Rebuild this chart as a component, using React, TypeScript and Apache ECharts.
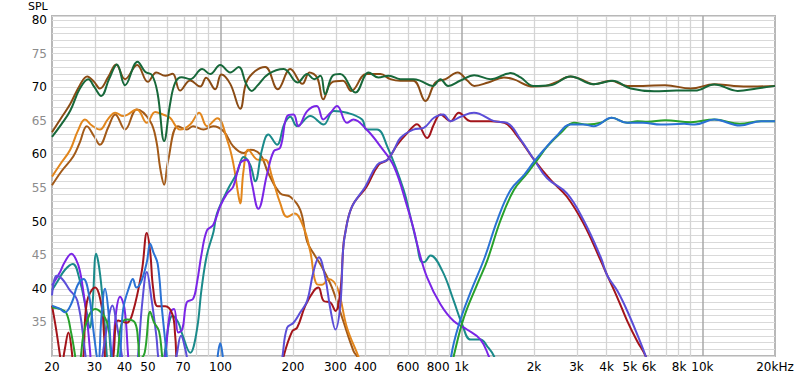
import React, { useEffect, useRef } from "react";
import * as echarts from "echarts";

// x-axis tick labels (Hz) and their texts
const xTickFreqs = [20, 30, 40, 50, 70, 100, 200, 300, 400, 600, 800, 1000, 2000, 3000, 4000, 5000, 6000, 8000, 10000, 20000];
const xTickLabels = ["20", "30", "40", "50", "70", "100", "200", "300", "400", "600", "800", "1k", "2k", "3k", "4k", "5k", "6k", "8k", "10k", "20kHz"];
// vertical grid lines
const minorGridFreqs = [30, 40, 50, 60, 70, 80, 90, 200, 300, 400, 500, 600, 700, 800, 900, 2000, 3000, 4000, 5000, 6000, 7000, 8000, 9000];
const majorGridFreqs = [100, 1000, 10000];
// y range (dB SPL)
const yMin = 30;
const yMax = 80.6;

// [frequency Hz, SPL dB]
const totalBrown = [[20,63.3],[21.9,65.5],[23.8,67.5],[26.1,70.3],[28,71.6],[29.9,70.8],[31.6,69.8],[34.2,71.5],[36.9,73.4],[40.2,71.2],[45.1,73.3],[50,70.8],[54.2,72.2],[59,71.7],[63.3,72],[68,69.5],[74.9,71],[82.4,70.1],[87.2,71.4],[95.1,69.7],[100.8,71.9],[109.8,70.5],[120.8,66.8],[128,70.7],[139.4,72.4],[153.4,73],[173,69.7],[194.9,72.7],[219,70.5],[234,72.2],[252,71.4],[267,68.2],[289,70.7],[322,70.95],[349,69.45],[403,71.95],[461,71.95],[507,71.2],[558,70.95],[632,70.95],[709,67.95],[780,70.7],[859,71.2],[964,72.2],[1060,70.95],[1130,70.2],[1290,70.7],[1500,71.45],[1640,71.2],[1990,70.1],[2240,70.2],[2460,70.7],[2838,71.6],[3124,71.2],[3540,70.45],[4163,70.95],[4880,70.2],[5660,70.2],[7000,70.3],[8950,69.8],[11200,70.45],[13500,70.2],[16000,70.1],[20000,70.2]];

const totalGreen = [[20,62.6],[21.9,64.5],[23.8,66.5],[26.1,69.8],[28.3,71.2],[30,70],[32,68.7],[34.5,71.2],[37.2,73.4],[40.2,70.3],[45.3,73.8],[48.7,72.3],[52,71.8],[54.9,69],[58.4,62],[61.8,67.5],[64.9,70.7],[69,71.5],[74.9,71.2],[84,72.7],[90.7,71.95],[99.8,73.3],[109.8,72.2],[119,73],[128,70.45],[135,69.45],[142,70.2],[158,71.95],[183,72.7],[209,70.7],[229,71.95],[245,71.2],[260,71.7],[272,68.95],[292,71.7],[314,71.95],[363,69.2],[412,72.2],[452,71.45],[500,71.7],[558,71.2],[632,71.2],[676,70.95],[760,70.2],[818,71.2],[880,70.2],[991,71],[1130,71.8],[1321,71.2],[1599,72.1],[1760,71.45],[1990,70.2],[2344,70.3],[2838,71.6],[3540,70.45],[4230,70.95],[5041,69.8],[6300,69.4],[7800,69.5],[9300,69.5],[11200,70.4],[14000,69.45],[16800,69.8],[20000,70.2]];

const wooferOrange = [[20,56.7],[21.6,58.5],[23.8,60.7],[25.6,63.5],[27.4,65.2],[29.3,64.3],[31.6,63.7],[34.2,65.3],[36.6,66.2],[39.5,65.7],[45,66.7],[49.5,64.7],[53.6,66.3],[58,65.9],[61.8,65.45],[68,63.7],[74.9,64.45],[81.6,66.2],[88,64.2],[97,65.4],[107,62],[113,58.7],[118.6,54],[120.8,52.7],[124.6,57.5],[130.5,60.7],[143.6,59.2],[153.4,59.2],[163.5,56.7],[177.1,52.7],[189,50.7],[203,51.2],[221,49.2],[236,45.5],[251,40.7],[264,40.6],[281,41.45],[305,40.2],[335,34.2],[373,30],[400,27]];

const wooferBrown = [[20,55.4],[21.9,57.5],[24.5,59.7],[26.1,61.8],[27.9,64.2],[29.9,62.7],[31.6,61.45],[34.2,64],[36.6,65.95],[40.2,63.7],[45,66.7],[51.1,64.95],[54.2,62],[56.2,58],[58.4,55.5],[60.6,59],[66.6,64.2],[72.5,63.7],[77,64.2],[85,63.7],[93.3,64.2],[103,63.45],[113,61.2],[124.7,60.2],[132.9,60.7],[146.3,60],[158,57.2],[177.1,54.2],[194.9,53.7],[214.5,51.7],[229,47],[244,45.2],[264,43.2],[290,40.2],[320,35.7],[357,30.7],[371,29.8],[395,27]];

const midPurple = [[20,40.5],[21.6,42.5],[22.6,44],[24.1,45.2],[25.2,44.3],[26.1,42.7],[27,39.5],[27.9,35.7],[28.8,30.5],[29.3,27],[32,24],[34.8,27],[36.9,36.5],[38.3,38.8],[40,37],[41.4,30],[42.5,25],[50,22],[56,25],[59,30],[61.8,36.5],[64.2,37],[66.8,33.5],[69.5,34],[72.5,38],[77,38.5],[80,41],[83.5,45.2],[87.9,48.7],[93.3,49.5],[99.8,52.3],[106.6,54.2],[113,55.2],[120.8,58.7],[128.5,59.2],[135,55.7],[143.6,51.9],[156.4,57.2],[166.6,60.5],[177,61],[189,65.7],[201,65.95],[210.5,64.2],[229,66.45],[251,67.2],[267,65.2],[286,66.2],[304.7,67.2],[335,64.7],[356,65.2],[404,63.7],[461,61.2],[525,58.2],[596,52.2],[632,49],[665,45.7],[720,41.7],[818,37.7],[928,35.2],[1054,33.95],[1200,32.45],[1297,30],[1400,27]];

const midTeal = [[20,39.8],[21,41],[22.6,42.8],[24.4,43.7],[26.1,41.2],[27.7,37],[28.7,34.2],[29.5,38],[30.5,45.2],[31.7,42],[33.2,34],[34.2,28],[36,24],[57,26],[59,31],[63.3,36],[66.8,35],[69.5,33.2],[74.9,30.5],[79.7,33.7],[83.5,40],[87.8,45],[93.6,48.5],[96.7,51.2],[108,55],[117,57.2],[124.7,59.6],[132.9,58.45],[139.4,56],[148.7,60.7],[158,62.95],[171.6,61.45],[184,64.5],[194.9,65.6],[207.8,64.2],[236,65.7],[268,64.45],[295,66.45],[335,66.2],[387,65.2],[404,63.7],[447,63.7],[492,61.2],[576,54.7],[614,50.7],[655,46.5],[676,44.2],[698,43.95],[744,44.95],[832,42.7],[929,38.2],[1007,34.7],[1091,32.45],[1200,32.45],[1279,31.45],[1363,30],[1450,27]];

const midRed = [[20,37.5],[20.8,34],[21.6,30],[21.9,28.5],[22.6,31],[23.4,33.5],[24.2,30.5],[24.7,27],[26.6,28],[27.9,38],[30.2,40.2],[32.1,37.5],[32.9,33],[33.8,28],[35.6,29],[37.6,35.3],[40.9,34.95],[43.3,36.5],[47.2,42.7],[49.5,48.3],[51.1,45.5],[52.6,40],[54.9,37.4],[59,37.4],[63.2,36.2],[64.9,33],[66.8,28],[90,22],[170,22],[177,27],[183,30],[198.6,33.7],[208,34.2],[225,37.5],[244,39.7],[255,40.2],[268,38.2],[286,37.95],[300,36.7],[314.5,39.7],[322.6,45.7],[327,47.7],[351,52.2],[404,55.2],[453,58.45],[493,59.2],[542,61.45],[597,63.2],[654,64.5],[720,62.45],[769,64.5],[818,65.95],[901,64.95],[975,66.2],[1091,64.95],[1321,64.95],[1508,64.7],[1708,62.7],[2003,59.2],[2344,56.2],[2740,53.7],[3212,49.7],[3783,44.2],[4032,41.95],[4434,38.7],[4876,35.2],[5362,32.2],[5810,30],[6200,27]];

const midBlueViolet = [[20,39],[20.9,41.95],[22,41.5],[23.5,40],[25.5,38.2],[27.4,30.7],[28.5,26],[31,24],[32.4,30],[34.5,36],[35.6,37.5],[37,35],[39,30],[40,26],[44,26],[45.5,30],[47.4,38],[49.5,42.5],[51.5,39],[54.2,33],[55.6,29],[60,24],[65.7,30],[68.6,33],[71.5,31],[74,28],[80,22],[170,22],[178.5,28],[181,30],[189,34.2],[201,34.95],[214.5,36.5],[229,38.2],[243,42.5],[256,44.7],[272,41.7],[285.8,37],[300,33.95],[314.5,37.7],[322.6,45.7],[331,48.7],[351,52.2],[399,55.2],[447,58.45],[493,59.2],[525,60.7],[558,62.45],[631,63.7],[697,63.95],[769,65.45],[840,65.95],[901,64.95],[991,65.6],[1127,66.2],[1366,64.95],[1547,64.7],[1760,62.2],[2003,59.2],[2268,56.45],[2740,54.2],[3212,50.2],[3783,44.7],[4032,41.95],[4434,39.7],[4876,36.7],[5362,33.2],[5810,30],[6200,27]];

const tweeterGreen = [[20,37.2],[21.6,37],[22.9,36.45],[24,33.5],[24.9,30.2],[25.3,28],[26.1,29],[27.4,34.2],[30.2,37],[33.7,35.2],[35,31],[35.6,28.5],[37,29],[38.8,34.7],[41,35.45],[44.2,34.95],[45.6,32],[46.4,29.5],[48.5,30.5],[51.1,36.6],[53,35],[55.6,33.7],[57.3,30],[58.4,28],[70,22],[800,22],[907,28],[929,30],[1023,35.7],[1163,40.7],[1279,44.2],[1453,50.2],[1650,54.7],[1876,57.2],[2064,59.2],[2272,61.2],[2580,63.2],[2930,64.7],[3330,64.45],[3783,64.7],[4202,65.45],[4876,64.7],[5372,64.95],[5912,64.85],[7000,65.1],[8950,64.8],[11200,65.2],[14300,64.55],[17500,64.95],[20000,64.95]];

const tweeterBlue = [[20,37.5],[21.6,37],[22.6,36.5],[24.2,38],[25.5,40.5],[27,41.45],[28.5,39],[29.9,33],[31.1,29],[32.1,36],[33.2,40],[34.2,37],[35.6,29],[37,27],[38.3,30],[39.5,37],[42.2,40.7],[43.3,41.45],[44.8,40.2],[46.8,41],[49.5,44],[51.1,46.7],[52.6,45.5],[54.9,43.7],[57.1,37.2],[59.8,30.2],[60.7,28],[80,22],[96,28],[97.8,30.5],[99.8,31.9],[101.8,30.5],[104,28],[150,22],[880,22],[900,28],[907,30],[982,35],[1091,39.5],[1250,44.7],[1408,50.2],[1599,54.7],[1820,56.95],[2003,58.95],[2200,60.7],[2475,62.7],[2838,64.45],[3212,64.45],[3540,64.2],[4200,65.45],[4876,64.7],[5660,64.7],[6718,64.45],[8400,64.55],[9300,64.45],[11200,65.2],[14300,64.3],[17500,64.95],[20000,64.95]];

const curves = [
  { name: "Woofer A", data: wooferBrown, color: "#a35a18" },
  { name: "Woofer B", data: wooferOrange, color: "#e2861c" },
  { name: "Mid-woofer A", data: midTeal, color: "#1a8a8a" },
  { name: "Mid-woofer B", data: midPurple, color: "#7a25e6" },
  { name: "Midrange A", data: midRed, color: "#a3141a" },
  { name: "Midrange B", data: midBlueViolet, color: "#5b4ed8" },
  { name: "Tweeter A", data: tweeterGreen, color: "#28a12b" },
  { name: "Tweeter B", data: tweeterBlue, color: "#2a72d4" },
  { name: "Total A", data: totalBrown, color: "#8a4b14" },
  { name: "Total B", data: totalGreen, color: "#17683a" },
];

const FONT = "DejaVu Sans";

export default function App() {
  const ref = useRef<HTMLDivElement>(null);
  useEffect(() => {
    const el = ref.current;
    if (!el) return;
    const chart = echarts.init(el, null, { renderer: "svg" });
    const lg = (f: number) => Math.log10(f);
    const gridLines = [
      ...minorGridFreqs.map((f) => ({ xAxis: lg(f), lineStyle: { color: "#d4d4d4", width: 1.3, type: "solid" } })),
      ...majorGridFreqs.map((f) => ({ xAxis: lg(f), lineStyle: { color: "#a9a9a9", width: 1.5, type: "solid" } })),
    ];
    const series: any[] = [
      {
        type: "line",
        name: "grid",
        data: [],
        silent: true,
        z: 1,
        markLine: {
          silent: true,
          symbol: ["none", "none"],
          label: { show: false },
          emphasis: { disabled: true },
          animation: false,
          data: gridLines,
        },
      },
      ...curves.map((c, i) => ({
        type: "line",
        name: c.name,
        data: c.data.map(([f, v]) => [lg(f), v]),
        smooth: 0.4,
        symbol: "none",
        showSymbol: false,
        clip: true,
        silent: true,
        z: 3 + i,
        lineStyle: { color: c.color, width: 2 },
        itemStyle: { color: c.color },
      })),
    ];
    chart.setOption({
      animation: false,
      backgroundColor: "#ffffff",
      grid: {
        left: 52,
        right: 25,
        top: 16,
        bottom: 22,
        show: true,
        backgroundColor: "#ffffff",
        borderColor: "#b8b8b8",
        borderWidth: 2,
      },
      xAxis: {
        type: "value",
        min: lg(20),
        max: lg(20000),
        axisLine: { show: false },
        axisTick: { show: false },
        splitLine: { show: false },
        axisLabel: {
          customValues: xTickFreqs.map(lg),
          margin: 5,
          color: "#000",
          fontFamily: FONT,
          fontSize: 12,
          showMinLabel: true,
          showMaxLabel: true,
          formatter: (v: number) => {
            let best = 0;
            let bd = Infinity;
            xTickFreqs.forEach((f, i) => {
              const d = Math.abs(lg(f) - v);
              if (d < bd) { bd = d; best = i; }
            });
            return bd < 0.01 ? xTickLabels[best] : "";
          },
        },
      },
      yAxis: {
        type: "value",
        min: yMin,
        max: yMax,
        interval: 1,
        axisLine: { show: false },
        axisTick: { show: false },
        splitLine: { show: true, lineStyle: { color: "#d9d9d9", width: 1.2 } },
        axisLabel: {
          margin: 5,
          fontFamily: FONT,
          fontSize: 12,
          formatter: (v: number) => {
            const r = Math.round(v);
            if (Math.abs(v - r) > 1e-6 || r % 5 !== 0 || r <= yMin) return "";
            return r % 10 === 0 ? `{k|${r}}` : `{g|${r}}`;
          },
          rich: {
            k: { color: "#000", fontFamily: FONT, fontSize: 12 },
            g: { color: "#8c8c8c", fontFamily: FONT, fontSize: 12 },
          },
        },
      },
      graphic: [
        {
          type: "text",
          x: 28,
          y: 1,
          style: { text: "SPL", fill: "#000", font: `11px '${FONT}'` },
        },
      ],
      series,
    });
    return () => chart.dispose();
  }, []);
  return <div ref={ref} style={{ position: "absolute", left: 0, top: 0, width: 800, height: 378 }} />;
}
